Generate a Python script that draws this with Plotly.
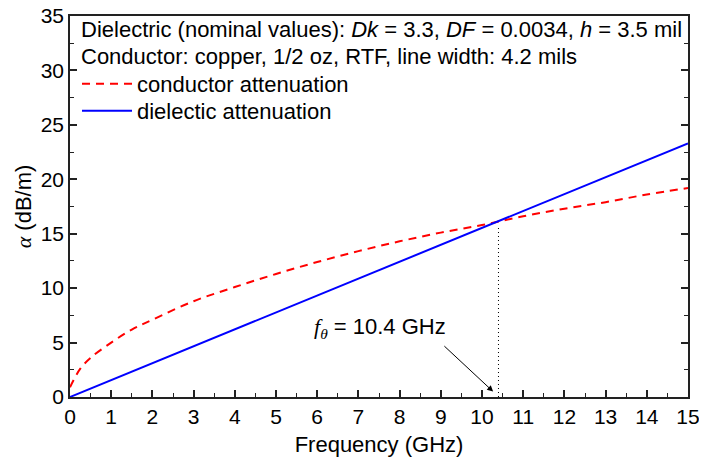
import plotly.graph_objects as go

# ---- data ----
freq_cond = [0, 0.25, 0.5, 1, 1.5, 2, 3, 4, 5, 6, 7, 8, 9, 10, 11, 12, 13, 14, 15]
alpha_cond = [0.9, 2.6, 3.6, 5.0, 6.2, 7.1, 8.8, 10.1, 11.3, 12.4, 13.4, 14.3, 15.1, 15.8, 16.6, 17.3, 17.9, 18.6, 19.2]
freq_diel = [0, 5, 10, 15]
alpha_diel = [0, 7.77, 15.53, 23.3]
crossover_f = [10.4, 10.4]
crossover_alpha = [0, 15.6]
arrow_head = (10.27, 0.5)
arrow_tail = (9.05, 4.8)
label_pos = (7.52, 6.35)

x_ticks = list(range(0, 16))
y_ticks = list(range(0, 36, 5))

FONT = "Arial, Liberation Sans, sans-serif"
SERIF = "Liberation Serif, Times New Roman, serif"

# The HTML page body has an 8 px margin; keep the figure inside the window
PAGE_W, PAGE_H, BODY = 707, 465, 8
FIG_W, FIG_H = PAGE_W - 2 * BODY, PAGE_H - 2 * BODY
# plot area in page pixels
plot_left, plot_right = 70, 688
plot_top, plot_bottom = 16, 397
def py(pix):
    return (plot_bottom - pix) / (plot_bottom - plot_top)
def px(pix):
    return (pix - plot_left) / (plot_right - plot_left)

fig = go.Figure()
fig.add_trace(go.Scatter(x=freq_cond, y=alpha_cond, mode="lines", name="conductor attenuation",
                         legend="legend",
                         line=dict(color="#ff0000", width=2, dash="8px,6px", shape="spline")))
fig.add_trace(go.Scatter(x=freq_diel, y=alpha_diel, mode="lines", name="dielectic attenuation",
                         legend="legend2",
                         line=dict(color="#0000ff", width=2)))
fig.add_trace(go.Scatter(x=crossover_f, y=crossover_alpha, mode="lines", showlegend=False,
                         line=dict(color="black", width=1, dash="1px,3px")))

fig.add_annotation(x=arrow_head[0], y=arrow_head[1], ax=arrow_tail[0], ay=arrow_tail[1],
                   xref="x", yref="y", axref="x", ayref="y", text="", showarrow=True,
                   arrowhead=2, arrowsize=1.2, arrowwidth=1, arrowcolor="black")
fig.add_annotation(x=label_pos[0], y=label_pos[1], xref="x", yref="y", showarrow=False,
                   text=f"<span style='font-family:{SERIF}'><i>f</i><sub><i>θ</i></sub></span> = 10.4 GHz",
                   font=dict(family=FONT, size=22, color="black"))

fig.add_annotation(x=px(79), y=py(29), xref="paper", yref="paper", yanchor="middle", xanchor="left",
                   showarrow=False, align="left",
                   text="Dielectric (nominal values): <i>Dk</i> = 3.3, <i>DF</i> = 0.0034, <i>h</i> = 3.5 mil",
                   font=dict(family=FONT, size=22, color="black"))
fig.add_annotation(x=px(79), y=py(56), xref="paper", yref="paper", yanchor="middle", xanchor="left",
                   showarrow=False, align="left",
                   text="Conductor: copper, 1/2 oz, RTF, line width: 4.2 mils",
                   font=dict(family=FONT, size=22, color="black"))

axis_common = dict(showline=True, linecolor="#222222", linewidth=1.5, ticks="inside",
                   ticklen=7, tickwidth=1.5, tickcolor="#222222", showgrid=False, zeroline=False,
                   automargin=False, ticklabeloverflow="allow",
                   tickfont=dict(family=FONT, size=21, color="black"))

fig.update_xaxes(range=[0, 15], tickvals=x_ticks, mirror=True,
                 minor=dict(dtick=0.5, ticks="inside", ticklen=4, tickwidth=1.2, tickcolor="#222222"),
                 title=dict(text="Frequency (GHz)", font=dict(family=FONT, size=22, color="black"), standoff=10),
                 **axis_common)
fig.update_yaxes(range=[0, 35], tickvals=y_ticks, mirror="ticks",
                 minor=dict(dtick=2.5, ticks="inside", ticklen=4, tickwidth=1.2, tickcolor="#222222"),
                 title=dict(text=f"<span style='font-family:{SERIF}'><i>α</i></span> (dB/m)",
                            font=dict(family=FONT, size=22, color="black"), standoff=3),
                 **axis_common)

legend_common = dict(xanchor="left", yanchor="middle", bgcolor="rgba(0,0,0,0)", itemwidth=50,
                     font=dict(family=FONT, size=22, color="black"))
fig.update_layout(
    width=FIG_W, height=FIG_H,
    margin=dict(l=plot_left - BODY, r=FIG_W - (plot_right - BODY),
                t=plot_top - BODY, b=FIG_H - (plot_bottom - BODY)),
    plot_bgcolor="white", paper_bgcolor="white",
    font=dict(family=FONT, size=22, color="black"),
    legend=dict(x=px(77), y=py(84), **legend_common),
    legend2=dict(x=px(77), y=py(111), **legend_common),
)

fig.write_html("out.html")
